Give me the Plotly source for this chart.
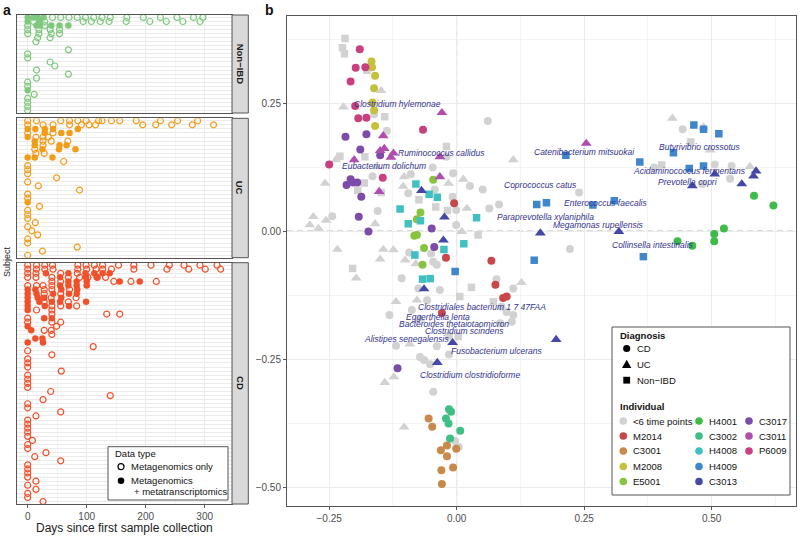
import plotly.graph_objects as go

W, H = 800, 537
FONT = "Liberation Sans, Arial, sans-serif"

# ---------------- Panel a data (days since first sample, per subject row) ----------------
day_ticks = [0, 100, 200, 300]

nonibd_open = [
    [42, 56, 70, 84, 98, 112, 126, 140, 168, 196, 225, 253, 281, 297],
    [10, 29, 94, 108, 123, 138, 167, 207, 235, 263, 292],
    [0, 29], [0, 19, 38, 54], [0, 19, 40, 54], [17, 38], [14], [], [69], [0], [0], [38],
    [46], [15], [69], [15], [0], [0], [], [11], [0], [0], [0], [0],
]
nonibd_filled = [
    [0, 10, 17, 27], [0, 21], [15, 21, 40, 54, 69], [], [], [], [], [], [], [], [], [],
    [], [], [], [], [], [], [0], [], [], [], [], [],
]

uc_open = [
    [0, 15, 56, 71, 85, 99, 120, 126, 142, 156, 184, 225, 254, 288],
    [0, 26, 43, 71, 91, 104, 115, 195, 217, 244, 279, 315],
    [], [0, 43], [14, 26, 35], [26, 40, 68], [26], [12], [14, 28], [], [61], [0], [0], [0],
    [49], [0], [18], [88], [0], [0], [], [20], [0], [0], [0], [13], [0], [7], [17], [0],
    [0], [84], [25], [0],
]
uc_filled = [
    [], [], [0, 13, 29, 43, 85], [29, 57, 71], [0], [12], [12, 54, 66], [25, 53, 81], [],
    [0, 12, 42], [], [], [], [], [], [], [], [], [], [], [0], [], [], [], [], [], [], [],
    [], [], [], [], [], [],
]

cd_open = [
    [0, 15, 29, 42, 85, 99, 113, 127, 154, 180, 209, 240, 265, 292, 321],
    [0, 15, 29, 43, 85, 100, 116, 127, 142, 180, 236, 273, 301, 327],
    [0, 14, 56, 84], [0, 14, 41, 69, 88, 102, 118, 132], [41, 56, 146, 175, 218],
    [0, 15, 26, 41], [28, 41, 71], [28, 56], [40, 82], [28, 69], [41, 56, 83], [15, 41],
    [41, 134, 156], [0], [0, 41, 56], [49], [28, 40], [41], [], [], [111], [0], [41],
    [0], [0], [0], [57], [0], [0], [0], [0], [39], [140], [26], [0], [0], [56], [14],
    [0], [0], [0], [0], [0], [8], [0], [0], [31], [12], [56], [0], [0], [0], [0], [14],
    [0], [14], [0], [0], [26],
]
cd_filled = [
    [], [], [31, 69, 98, 113, 127, 139], [55, 99, 117], [69, 83, 100, 156, 190],
    [55, 69, 83, 100], [0, 13, 57, 84], [0, 15, 43, 70, 83], [0, 17, 28, 57],
    [0, 20, 41, 55, 99], [0, 29, 70], [0], [], [28, 41], [], [0], [6], [], [13, 25],
    [0, 26], [], [], [], [], [], [], [], [], [], [], [], [], [], [], [], [], [], [], [],
    [], [], [], [], [], [], [], [], [], [], [], [], [], [], [], [], [], [], [], [],
]

facet_names = ["Non\u2212IBD", "UC", "CD"]
facet_colors = ["#7fc97f", "#f29d1a", "#f0502a"]

# ---------------- Panel b data (ordination coordinates) ----------------
pc_ticks = [-0.25, 0.0, 0.25, 0.5]
pc_ticktext = ["\u22120.25", "0.00", "0.25", "0.50"]
pcy_ticks = [-0.5, -0.25, 0.0, 0.25]
pcy_ticktext = ["\u22120.50", "\u22120.25", "0.00", "0.25"]

gray_cd_x = [-0.137, -0.162, 0.061, -0.165, -0.090, -0.047, -0.020, -0.007, 0.026, 0.051, -0.008,
             -0.043, -0.095, -0.001, 0.064, 0.083, -0.155, -0.244, -0.093, -0.108, -0.050, -0.046,
             -0.039, -0.001, 0.078, 0.111, 0.088, 0.098, 0.111, 0.108, 0.085, -0.132, -0.088,
             -0.075, -0.119, -0.039, -0.072, -0.064, -0.052, -0.015, -0.046, -0.003, 0.004,
             0.443, 0.387, 0.506, 0.539, 0.536, 0.482, 0.240, 0.222, -0.033, -0.058]
gray_cd_y = [0.196, 0.228, 0.215, 0.107, 0.111, 0.124, 0.145, 0.113, 0.088, 0.081, 0.067,
             0.081, 0.074, 0.041, 0.044, 0.052, 0.039, 0.029, -0.042, -0.092, -0.044, -0.060,
             -0.066, 0.012, -0.094, -0.112, -0.148, -0.158, -0.164, -0.177, -0.180, -0.164, -0.154,
             -0.112, -0.224, -0.225, -0.246, -0.252, -0.260, -0.241, -0.314, -0.410, -0.422,
             0.199, 0.124, 0.130, 0.127, 0.102, 0.092, 0.075, -0.035, -0.115, -0.135]
gray_uc_x = [-0.148, -0.222, -0.258, -0.281, -0.237, -0.103, -0.016, 0.013, -0.105, 0.020, 0.111,
             -0.157, -0.256, -0.288, -0.271, -0.160, -0.234, -0.150, -0.144, -0.124, -0.101, -0.080,
             0.010, -0.197, 0.127, -0.119, -0.078, -0.072, -0.092, -0.141, -0.123, -0.103,
             0.423, 0.484, 0.497, 0.575]
gray_uc_y = [0.274, 0.242, 0.093, 0.028, 0.139, 0.106, 0.093, 0.101, 0.087, 0.044, 0.139,
             0.126, 0.021, 0.012, 0.005, 0.014, -0.036, -0.055, -0.036, -0.037, -0.057, -0.064,
             -0.001, -0.092, -0.101, -0.138, -0.135, -0.172, -0.221, -0.296, -0.285, -0.383,
             0.220, 0.203, 0.158, 0.126]
gray_non_x = [-0.219, -0.224, -0.220, -0.176, -0.141, -0.148, -0.181, -0.229, -0.180, -0.194, -0.074,
              -0.041, -0.018, -0.020, 0.042, -0.204, 0.029, 0.006, 0.072, -0.015, 0.003, 0.459, 0.402]
gray_non_y = [0.376, 0.358, 0.346, 0.314, 0.223, 0.075, 0.094, 0.146, 0.145, 0.079, 0.061,
              0.047, 0.040, 0.165, -0.008, -0.073, -0.110, -0.128, -0.138, -0.205, -0.206, 0.174, 0.129]

m2014_x = [-0.005, -0.021, 0.068, 0.076, 0.098, 0.091, -0.029]
m2014_y = [0.054, -0.052, -0.058, -0.105, -0.128, -0.131, -0.160]
c3001_x = [-0.055, -0.048, -0.019, -0.031, -0.001, -0.019, -0.030, -0.007, -0.029]
c3001_y = [-0.366, -0.382, -0.419, -0.428, -0.425, -0.440, -0.467, -0.462, -0.494]
m2008_x = [-0.167, -0.166, -0.160, -0.162, -0.165, -0.162, -0.160]
m2008_y = [0.331, 0.320, 0.303, 0.279, 0.251, 0.236, 0.205]
e5001_x = [-0.046, -0.071, -0.078, -0.083, -0.078, -0.064, -0.067]
e5001_y = [0.100, 0.036, 0.023, -0.009, -0.008, -0.033, -0.066]
h4001_x = [0.583, 0.621, 0.524, 0.505, 0.505, 0.433, 0.462]
h4001_y = [0.069, 0.050, 0.005, -0.006, -0.020, -0.020, -0.029]
c3002_x = [-0.015, -0.011, -0.021, -0.016, 0.007, -0.013]
c3002_y = [-0.348, -0.353, -0.366, -0.376, -0.390, -0.405]
h4008_x = [-0.080, -0.054, -0.038, -0.111, 0.039, -0.071, -0.095, 0.014, -0.082, -0.025, -0.067, -0.052]
h4008_y = [0.092, 0.072, 0.066, 0.043, 0.026, 0.020, 0.014, -0.025, -0.047, -0.036, -0.094, -0.093]
h4009_x = [0.157, 0.176, 0.152, -0.003, 0.214, 0.359, 0.309, 0.267, 0.425, 0.465, 0.484, 0.514,
           0.484, 0.456, 0.366]
h4009_y = [0.052, 0.055, -0.057, -0.079, 0.148, 0.135, 0.059, 0.051, 0.153, 0.207, 0.199, 0.190,
           0.127, 0.122, -0.050]
c3013_x = [-0.069, -0.024, -0.026, -0.064, -0.008, -0.038, 0.164, 0.195, 0.318, 0.462, 0.506,
           0.559, 0.582, 0.587]
c3013_y = [0.079, 0.027, -0.018, -0.113, -0.218, -0.257, -0.004, -0.212, -0.001, 0.088, 0.111,
           0.092, 0.107, 0.117]
c3017_x = [-0.218, -0.177, -0.189, -0.150, -0.208, -0.203, -0.216, -0.195, -0.187, -0.192, -0.173,
           -0.044, -0.049, -0.116]
c3017_y = [0.184, 0.189, 0.159, 0.148, 0.101, 0.095, 0.090, 0.095, 0.067, 0.028, -0.001,
           -0.031, 0.005, -0.268]
c3011_x = [-0.029, -0.144, -0.150, -0.142, -0.124, -0.129, -0.033, -0.033, -0.201, -0.152, 0.254]
c3011_y = [0.231, 0.186, 0.157, 0.161, 0.152, 0.144, 0.145, 0.106, 0.139, 0.077, 0.171]
p6009_x = [-0.190, -0.198, -0.179, -0.208, -0.199, -0.193, -0.177, -0.066, -0.250, -0.145]
p6009_y = [0.355, 0.319, 0.320, 0.292, 0.244, 0.220, 0.221, 0.198, 0.130, 0.104]

species_names = ["Clostridium hylemonae", "Ruminococcus callidus", "Eubacterium dolichum",
                 "Catenibacterium mitsuokai", "Butyrivibrio crossotus", "Acidaminococcus fermentans",
                 "Prevotella copri", "Coprococcus catus", "Enterococcus faecalis",
                 "Paraprevotella xylaniphila", "Megamonas rupellensis", "Collinsella intestinalis",
                 "Clostridiales bacterium 1 7 47FAA", "Eggerthella lenta",
                 "Bacteroides thetaiotaomicron", "Clostridium scindens", "Alistipes senegalensis",
                 "Fusobacterium ulcerans", "Clostridium clostridioforme"]
species_x = [-0.117, -0.029, -0.143, 0.251, 0.477, 0.457, 0.453, 0.165, 0.291, 0.175, 0.279,
             0.385, 0.050, -0.037, -0.005, 0.015, -0.098, 0.078, 0.026]
species_y = [0.248, 0.152, 0.127, 0.154, 0.164, 0.117, 0.095, 0.089, 0.055, 0.027, 0.012,
             -0.027, -0.148, -0.168, -0.182, -0.195, -0.210, -0.234, -0.281]

# ---------------- helpers for layout positions (pixel -> paper) ----------------
def fx(px):
    return px / W

def fy(py):
    return 1 - py / H

fig = go.Figure()

GRID = "#ebebeb"
MINOR = "#f4f4f4"
BORDER = "#555555"
TICKC = "#4d4d4d"

facet_top = [15, 118.3, 262.7]
facet_bot = [113, 257.7, 504]
ax_left, ax_right = 17.3, 232

facet_data = [(nonibd_open, nonibd_filled), (uc_open, uc_filled), (cd_open, cd_filled)]
layout_axes = {}
for i, (opn, fil) in enumerate(facet_data):
    k = "" if i == 0 else str(i + 1)
    xs, ys = [], []
    for r, row in enumerate(opn):
        for d in row:
            xs.append(d); ys.append(r)
    fig.add_trace(go.Scatter(x=xs, y=ys, mode="markers", xaxis="x" + k, yaxis="y" + k,
                             marker=dict(symbol="circle-open", size=6, color=facet_colors[i],
                                         line=dict(width=1.2)), showlegend=False, hoverinfo="skip"))
    xs, ys = [], []
    for r, row in enumerate(fil):
        for d in row:
            xs.append(d); ys.append(r)
    fig.add_trace(go.Scatter(x=xs, y=ys, mode="markers", xaxis="x" + k, yaxis="y" + k,
                             marker=dict(symbol="circle", size=6.5, color=facet_colors[i]),
                             showlegend=False, hoverinfo="skip"))
    n = len(opn)
    last = (i == 2)
    layout_axes["xaxis" + k] = dict(
        domain=[fx(ax_left), fx(ax_right)], anchor="y" + k, range=[-17.6, 346.3],
        tickvals=day_ticks, showticklabels=last, ticks="outside" if last else "",
        ticklen=3, tickcolor=BORDER, tickfont=dict(size=10, color=TICKC, family=FONT),
        showgrid=True, gridcolor=GRID, gridwidth=1,
        minor=dict(tick0=0, dtick=50, showgrid=True, gridcolor=MINOR, gridwidth=0.8),
        showline=True, mirror=True, linecolor=BORDER, linewidth=1, zeroline=False)
    layout_axes["yaxis" + k] = dict(
        domain=[fy(facet_bot[i]), fy(facet_top[i])], anchor="x" + k, range=[n - 0.4, -0.6],
        tickvals=list(range(n)), showticklabels=False, ticks="", showgrid=True,
        gridcolor=GRID, gridwidth=0.6, showline=True, mirror=True, linecolor=BORDER,
        linewidth=1, zeroline=False)

# panel b traces
def add_b(x, y, symbol, color, size):
    fig.add_trace(go.Scatter(x=x, y=y, mode="markers", xaxis="x4", yaxis="y4",
                             marker=dict(symbol=symbol, size=size, color=color, line=dict(width=0)),
                             showlegend=False, hoverinfo="skip"))

GRAYC = "#d2d2d2"
CS, TS, SS = 8, 9.5, 7.5
add_b(gray_cd_x, gray_cd_y, "circle", GRAYC, CS)
add_b(gray_uc_x, gray_uc_y, "triangle-up", GRAYC, TS)
add_b(gray_non_x, gray_non_y, "square", GRAYC, SS)

ind_specs = [
    (m2014_x, m2014_y, "circle", "#c9474a"),
    (c3001_x, c3001_y, "circle", "#c9894a"),
    (m2008_x, m2008_y, "circle", "#c6c03f"),
    (e5001_x, e5001_y, "circle", "#86c440"),
    (h4001_x, h4001_y, "circle", "#3fbb4a"),
    (c3002_x, c3002_y, "circle", "#3fbf86"),
    (h4008_x, h4008_y, "square", "#40c0c0"),
    (h4009_x, h4009_y, "square", "#3f86cc"),
    (c3013_x, c3013_y, "triangle-up", "#4648a8"),
    (c3017_x, c3017_y, "circle", "#7c4ca8"),
    (c3011_x, c3011_y, "triangle-up", "#b04eb0"),
    (p6009_x, p6009_y, "circle", "#c8407e"),
]
for x, y, sym, col in ind_specs:
    add_b(x, y, sym, col, {"circle": CS, "square": SS, "triangle-up": TS}[sym])

XR = [-0.3327, 0.6653]
YR = [-0.537, 0.4209]
layout_axes["xaxis4"] = dict(
    domain=[fx(287), fx(796)], anchor="y4", range=XR,
    tickvals=pc_ticks, ticktext=pc_ticktext, ticks="outside", ticklen=3, tickcolor=BORDER,
    tickfont=dict(size=10, color=TICKC, family=FONT), showgrid=True, gridcolor=GRID,
    minor=dict(tick0=0, dtick=0.125, showgrid=True, gridcolor=MINOR),
    showline=True, mirror=True, linecolor=BORDER, linewidth=1, zeroline=False)
layout_axes["yaxis4"] = dict(
    domain=[fy(506), fy(15.5)], anchor="x4", range=YR,
    tickvals=pcy_ticks, ticktext=pcy_ticktext, ticks="outside", ticklen=3, tickcolor=BORDER,
    tickfont=dict(size=10, color=TICKC, family=FONT), showgrid=True, gridcolor=GRID,
    minor=dict(tick0=0, dtick=0.125, showgrid=True, gridcolor=MINOR),
    showline=True, mirror=True, linecolor=BORDER, linewidth=1, zeroline=False)

shapes = []
annos = []

# dashed zero lines in panel b
shapes.append(dict(type="line", xref="x4", yref="y4", x0=0, x1=0, y0=YR[0], y1=YR[1],
                   line=dict(color="#b5b5b5", width=1, dash="6px,4px"), layer="below"))
shapes.append(dict(type="line", xref="x4", yref="y4", x0=XR[0], x1=XR[1], y0=0, y1=0,
                   line=dict(color="#b5b5b5", width=1, dash="6px,4px"), layer="below"))

def txt(t, px, py, size=9.5, bold=False, anchor="left", angle=0, color="#111"):
    annos.append(dict(text=("<b>%s</b>" % t) if bold else t, x=fx(px), y=fy(py), xref="paper",
                      yref="paper", xanchor=anchor, yanchor="middle", showarrow=False,
                      textangle=angle, font=dict(size=size, color=color, family=FONT)))

# strips
for i, name in enumerate(facet_names):
    shapes.append(dict(type="rect", xref="paper", yref="paper", x0=fx(232), x1=fx(248.3),
                       y0=fy(facet_bot[i]), y1=fy(facet_top[i]), fillcolor="#d9d9d9",
                       line=dict(color=BORDER, width=1), layer="above"))
    txt(name, 240.3, (facet_top[i] + facet_bot[i]) / 2, 9.5, True, "center", 90, "#1a1a1a")

# species labels
for nm, sx, sy in zip(species_names, species_x, species_y):
    annos.append(dict(text="<i>%s</i>" % nm, x=sx, y=sy, xref="x4", yref="y4", showarrow=False,
                      xanchor="center", yanchor="middle",
                      font=dict(size=8.5, color="#33338f", family=FONT)))

# panel letters and axis titles
txt("a", 7, 10, 14, True, "center")
txt("b", 269, 9.5, 14, True, "center")
txt("Subject", 7, 262, 9, False, "center", -90, "#222")
txt("Days since first sample collection", 124.6, 528, 12, False, "center", 0, "#222")

# ---- legend panel a ----
shapes.append(dict(type="rect", xref="paper", yref="paper", x0=fx(108), x1=fx(228), y0=fy(500),
                   y1=fy(446.7), fillcolor="white", line=dict(color=BORDER, width=1), layer="above"))

def circle_shape(cx, cy, r, filled, color="black"):
    return dict(type="circle", xref="paper", yref="paper", x0=fx(cx - r), x1=fx(cx + r),
                y0=fy(cy + r), y1=fy(cy - r), fillcolor=color if filled else "white",
                line=dict(color=color, width=1.2 if not filled else 0), layer="above")

shapes.append(circle_shape(121, 466.7, 3, False))
shapes.append(circle_shape(121, 480.7, 3.3, True))
txt("Data type", 112.5, 453.5, 9.5)
txt("Metagenomics only", 129, 466.7, 9.5)
txt("Metagenomics", 129, 480.7, 9.5)
txt("+ metatranscriptomics", 131.5, 491, 9.5)

# ---- legend panel b ----
shapes.append(dict(type="rect", xref="paper", yref="paper", x0=fx(612), x1=fx(790), y0=fy(495),
                   y1=fy(327), fillcolor="white", line=dict(color=BORDER, width=1), layer="above"))
txt("Diagnosis", 618, 335, 9.5, True)
shapes.append(circle_shape(626.7, 348.5, 3.6, True))
shapes.append(dict(type="path", xref="paper", yref="paper", layer="above", fillcolor="black",
                   line=dict(width=0),
                   path="M %f %f L %f %f L %f %f Z" % (fx(626.7), fy(359.8), fx(622), fy(368),
                                                       fx(631.4), fy(368))))
shapes.append(dict(type="rect", xref="paper", yref="paper", x0=fx(623.3), x1=fx(630.1),
                   y0=fy(383.6), y1=fy(376.8), fillcolor="black", line=dict(width=0), layer="above"))
txt("CD", 635, 348.5, 9.5)
txt("UC", 635, 364.5, 9.5)
txt("Non\u2212IBD", 635, 380.5, 9.5)
txt("Individual", 618, 406.5, 9.5, True)

leg_names = ["<6 time points", "M2014", "C3001", "M2008", "E5001",
             "H4001", "C3002", "H4008", "H4009", "C3013",
             "C3017", "C3011", "P6009"]
leg_colors = [GRAYC, "#c9474a", "#c9894a", "#c6c03f", "#86c440",
              "#3fbb4a", "#3fbf86", "#40c0c0", "#3f86cc", "#4648a8",
              "#7c4ca8", "#b04eb0", "#c8407e"]
col_x = [623.3, 699, 749]
row_y = [421, 436, 451, 466.5, 481.5]
for j, (nm, col) in enumerate(zip(leg_names, leg_colors)):
    c, r = divmod(j, 5)
    shapes.append(circle_shape(col_x[c], row_y[r], 3.8, True, col))
    txt(nm.replace("<", "&lt;"), col_x[c] + 7.5, row_y[r], 9.5)

fig.update_layout(
    width=W, height=H, margin=dict(l=0, r=0, t=0, b=0), paper_bgcolor="white",
    plot_bgcolor="white", showlegend=False, font=dict(family=FONT),
    shapes=shapes, annotations=annos, **layout_axes)

fig.write_html("out.html", config={"displayModeBar": False},
               post_script="document.body.style.margin='0';document.body.style.padding='0';"
                           "document.body.style.overflow='hidden';")
